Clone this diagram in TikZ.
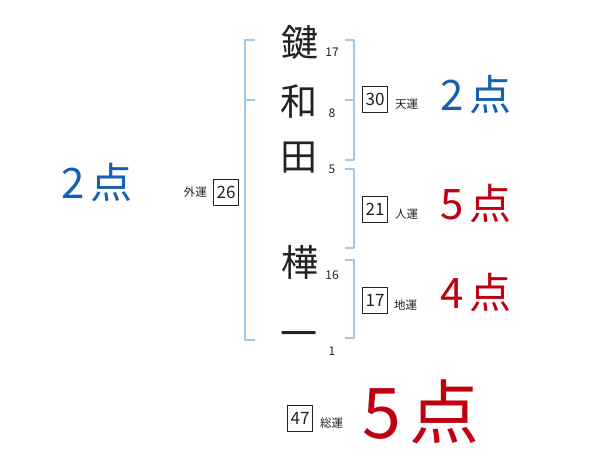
\documentclass[tikz,border=0pt]{standalone}
\usepackage{fontspec}
\setmainfont{Noto Sans CJK JP}
\usetikzlibrary{positioning}
\definecolor{fnBracket}{HTML}{9DCAE8}
\definecolor{fnInk}{HTML}{222222}
\definecolor{fnBlue}{HTML}{1560B0}
\definecolor{fnRed}{HTML}{C00010}
\tikzset{
  fn diagram/.style={x=1pt, y=-1pt, text=fnInk,
    line cap=round, line join=round},
  fn kanji/.style={font=\fontsize{37}{40}\selectfont, inner sep=0pt},
  fn stroke/.style={font=\fontsize{12}{12}\selectfont, inner sep=0pt},
  fn bracket/.style={draw=fnBracket, line width=2pt, line cap=butt},
  fn box/.style={draw=fnInk, line width=0.8pt, minimum width=25pt,
    minimum height=26pt, inner sep=0pt, font=\fontsize{17}{18}\selectfont},
  fn label/.style={font=\fontsize{11.5}{12}\selectfont, inner sep=0pt},
  fn score/.style={font=\fontsize{42}{44}\selectfont, inner sep=0pt},
  fn big score/.style={font=\fontsize{70}{72}\selectfont, inner sep=0pt}
}
\newcommand{\fnpoints}[1]{#1\hspace{0.12em}点}
\begin{document}
\begin{tikzpicture}[fn diagram]
\useasboundingbox[fill=white] (0,0) rectangle (600,470);
% name characters and stroke counts
\node[fn kanji] (c1) at (300,42) {鍵};
\node[fn kanji] (c2) at (299,102) {和};
\node[fn kanji] (c3) at (299,158) {田};
\node[fn kanji] (c4) at (300,262) {樺};
\node[fn kanji] (c5) at (299,340) {一};
\node[fn stroke] (s1) at (332,52) {17};
\node[fn stroke] (s2) at (332,113) {8};
\node[fn stroke] (s3) at (332,169) {5};
\node[fn stroke] (s4) at (332,275) {16};
\node[fn stroke] (s5) at (332,351) {1};
% brackets
\draw[fn bracket] (255,40) -- (245,40) -- (245,340) -- (255,340);
\draw[fn bracket] (245,100) -- (255,100);
\draw[fn bracket] (345,40) -- (354,40) -- (354,160) -- (345,160);
\draw[fn bracket] (345,100) -- (354,100);
\draw[fn bracket] (345,169) -- (354,169) -- (354,248) -- (345,248);
\draw[fn bracket] (345,260) -- (354,260) -- (354,338) -- (345,338);
% totals
\node[fn box] (gai) at (226,192) {26};
\node[fn label,left=6pt of gai] (gailabel) {外運};
\node[fn box] (ten) at (375,99) {30};
\node[fn label,anchor=west] (tenlabel) at (395,104) {天運};
\node[fn box] (jin) at (375,209) {21};
\node[fn label,anchor=west] (jinlabel) at (395,214) {人運};
\node[fn box] (chi) at (375,300) {17};
\node[fn label,anchor=west] (chilabel) at (394,305) {地運};
\node[fn box] (sou) at (300,418) {47};
\node[fn label,anchor=west] (soulabel) at (320,423) {総運};
% scores
\node[fn score,text=fnBlue] (gaiscore) at (97,183) {\fnpoints{2}};
\node[fn score,text=fnBlue] (tenscore) at (476,95) {\fnpoints{2}};
\node[fn score,text=fnRed] (jinscore) at (476,204) {\fnpoints{5}};
\node[fn score,text=fnRed] (chiscore) at (476,293) {\fnpoints{4}};
\node[fn big score,text=fnRed] (souscore) at (421,412) {\fnpoints{5}};
\end{tikzpicture}
\end{document}
